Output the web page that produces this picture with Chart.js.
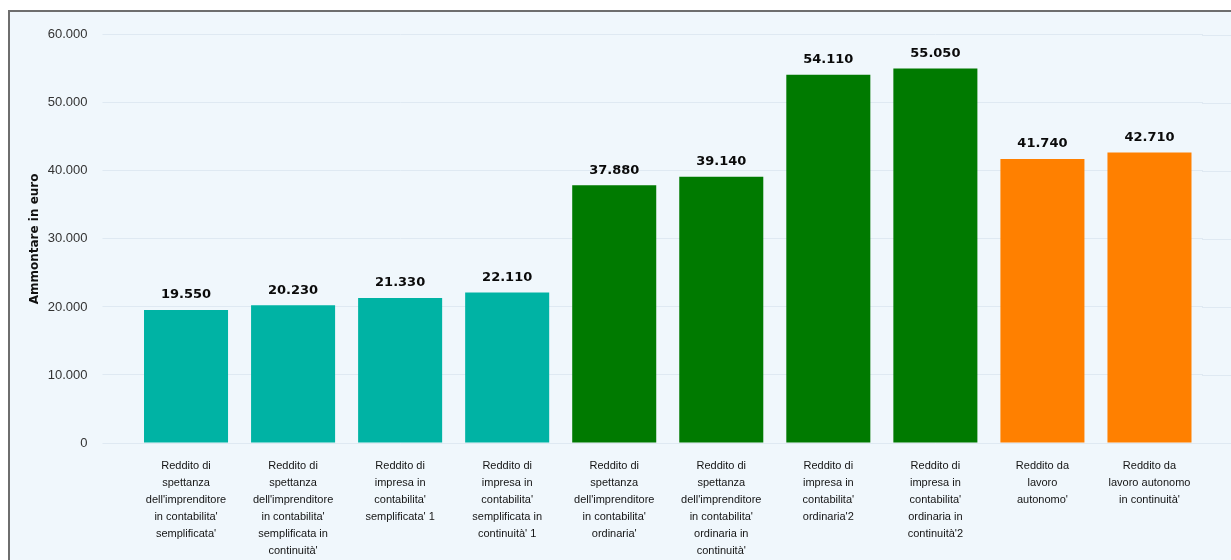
<!DOCTYPE html>
<html>
<head>
<meta charset="utf-8">
<script src="https://cdn.jsdelivr.net/npm/chart.js@4"></script>
<style>
  body { margin: 0; background: #fff; overflow: hidden; }
  #frame {
    position: absolute; left: 8px; top: 10px;
    width: 1240px; height: 570px;
    border: 2px solid #6e6e6e;
    background: #f0f7fc;
  }
  #chart { display: block; }
</style>
</head>
<body>
<div id="frame"><canvas id="chart" width="1221" height="548"></canvas></div>
<script>
// tipologie di reddito (etichette già spezzate su più righe)
const categories = [
  ["Reddito di", "spettanza", "dell'imprenditore", "in contabilita'", "semplificata'"],
  ["Reddito di", "spettanza", "dell'imprenditore", "in contabilita'", "semplificata in", "continuità'"],
  ["Reddito di", "impresa in", "contabilita'", "semplificata' 1"],
  ["Reddito di", "impresa in", "contabilita'", "semplificata in", "continuità' 1"],
  ["Reddito di", "spettanza", "dell'imprenditore", "in contabilita'", "ordinaria'"],
  ["Reddito di", "spettanza", "dell'imprenditore", "in contabilita'", "ordinaria in", "continuità'"],
  ["Reddito di", "impresa in", "contabilita'", "ordinaria'2"],
  ["Reddito di", "impresa in", "contabilita'", "ordinaria in", "continuità'2"],
  ["Reddito da", "lavoro", "autonomo'"],
  ["Reddito da", "lavoro autonomo", "in continuità'"]
];
const amounts = [19550, 20230, 21330, 22110, 37880, 39140, 54110, 55050, 41740, 42710];
const barColors = [
  "#00b3a4", "#00b3a4", "#00b3a4", "#00b3a4",
  "#007a00", "#007a00", "#007a00", "#007a00",
  "#ff8000", "#ff8000"
];
const yTicks = [0, 10000, 20000, 30000, 40000, 50000, 60000];

const gridColor = "#dfe9f2";

function fmt(v) {
  return String(Math.round(v)).replace(/\B(?=(\d{3})+(?!\d))/g, ".");
}

// valore sopra ogni barra
const valueLabels = {
  id: "valueLabels",
  afterDatasetsDraw(chart) {
    const ctx = chart.ctx;
    const meta = chart.getDatasetMeta(0);
    ctx.save();
    ctx.font = "bold 13px 'DejaVu Sans'";
    ctx.fillStyle = "#0a0a0a";
    ctx.textAlign = "center";
    ctx.textBaseline = "middle";
    meta.data.forEach((bar, i) => {
      ctx.fillText(fmt(amounts[i]), bar.x, bar.y - 15);
    });
    ctx.restore();
  }
};

// prolunga le linee della griglia fino al bordo destro
const gridTail = {
  id: "gridTail",
  beforeDatasetsDraw(chart) {
    const ctx = chart.ctx;
    const y = chart.scales.y;
    ctx.save();
    ctx.strokeStyle = gridColor;
    ctx.lineWidth = 1;
    y.ticks.forEach(t => {
      const py = Math.round(y.getPixelForValue(t.value)) + 0.5;
      ctx.beginPath();
      ctx.moveTo(chart.chartArea.right - 1, py);
      ctx.lineTo(chart.width, py);
      ctx.stroke();
    });
    ctx.restore();
  }
};

new Chart(document.getElementById("chart"), {
  type: "bar",
  data: {
    labels: categories,
    datasets: [{
      data: amounts,
      backgroundColor: barColors,
      barPercentage: 0.785,
      categoryPercentage: 1
    }]
  },
  options: {
    responsive: false,
    animation: false,
    layout: { padding: { top: 19, right: 28, left: 0, bottom: 0 } },
    plugins: {
      legend: { display: false },
      tooltip: { enabled: false }
    },
    scales: {
      x: {
        grid: { display: false },
        border: { display: false },
        ticks: {
          autoSkip: false,
          maxRotation: 0,
          padding: 7,
          color: "#141414",
          font: { family: "'Liberation Sans'", size: 11, lineHeight: 1.53 }
        },
        afterFit(scale) { scale.height = 117; }
      },
      y: {
        min: 0,
        max: 60000,
        afterBuildTicks(scale) {
          scale.ticks = yTicks.map(v => ({ value: v }));
        },
        grid: {
          color: gridColor,
          drawTicks: true,
          tickLength: 30,
          tickColor: gridColor
        },
        border: { display: false },
        ticks: {
          padding: 15,
          color: "#333",
          font: { family: "'Liberation Sans'", size: 13 },
          callback: v => fmt(v)
        },
        title: {
          display: true,
          text: "Ammontare in euro",
          color: "#111",
          padding: { top: 18, bottom: 0 },
          font: { family: "'DejaVu Sans'", size: 12, weight: "bold" }
        },
        afterFit(scale) { scale.width = 122.5; }
      }
    }
  },
  plugins: [gridTail, valueLabels]
});
</script>
</body>
</html>
